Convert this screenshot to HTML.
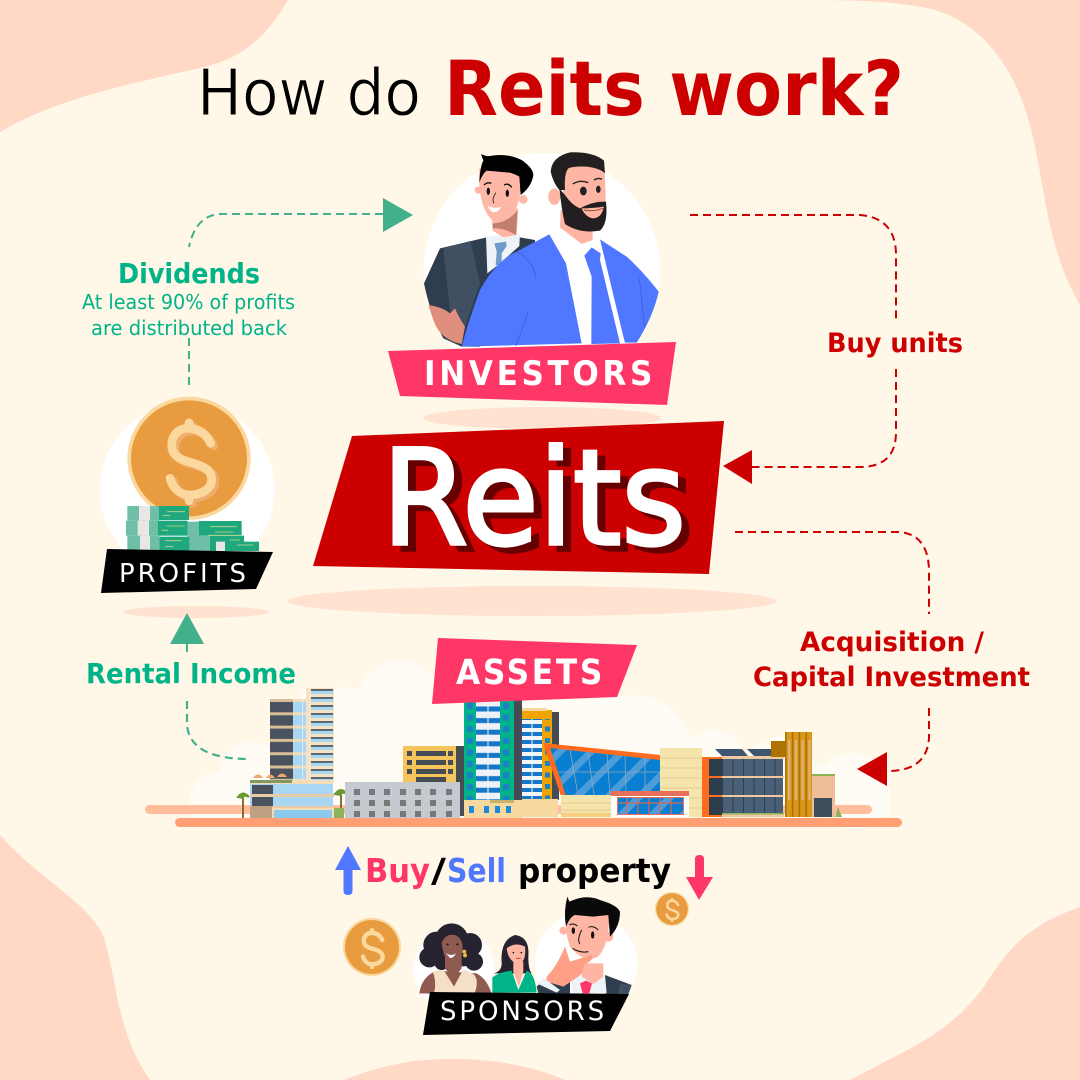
<!DOCTYPE html>
<html><head><meta charset="utf-8"><title>How do Reits work?</title>
<style>html,body{margin:0;padding:0;background:#FFF7E8}svg{display:block}text{font-family:"DejaVu Sans","Liberation Sans",sans-serif}</style></head>
<body>
<svg xmlns="http://www.w3.org/2000/svg" width="1080" height="1080" viewBox="0 0 1080 1080">
<defs>
<pattern id="tw" x="270" y="699" width="23" height="13.3" patternUnits="userSpaceOnUse"><rect width="23" height="13.3" fill="#4A5260"/><rect width="23" height="3" fill="#D9BC98"/></pattern>
<pattern id="tg" x="293" y="699" width="20" height="13.3" patternUnits="userSpaceOnUse"><rect width="20" height="13.3" fill="#A9D6F2"/><rect width="20" height="3" fill="#F3DDB8"/><rect x="9" width="1" height="13.3" fill="#D8EEFA"/></pattern>
<pattern id="tr" x="306" y="688" width="28" height="8" patternUnits="userSpaceOnUse"><rect width="28" height="8" fill="#F6E2C4"/><rect x="5" y="1" width="22" height="2" fill="#5E6670"/><rect x="5" y="3" width="22" height="3" fill="#A8D8F4"/></pattern>
<pattern id="gt" x="476" y="700" width="24" height="11.6" patternUnits="userSpaceOnUse"><rect width="24" height="11.6" fill="#EEF2F6"/><rect y="6.5" width="24" height="5" fill="#1676C8"/><rect x="11.5" width="1" height="11.6" fill="#EEF2F6"/></pattern>
<pattern id="gw" x="464" y="700" width="12" height="11.6" patternUnits="userSpaceOnUse"><rect width="12" height="11.6" fill="#00B388"/><rect x="3" y="3" width="6" height="6" fill="#1C7FC8"/></pattern>
<pattern id="ot" x="522" y="712" width="20" height="8" patternUnits="userSpaceOnUse"><rect width="20" height="8" fill="#F2F5F8"/><rect y="4" width="20" height="4" fill="#1676C8"/><rect x="9.5" width="1" height="8" fill="#F2F5F8"/></pattern>
<pattern id="ow" x="542" y="712" width="10" height="11.5" patternUnits="userSpaceOnUse"><rect width="10" height="11.5" fill="#EFA400"/><rect x="3" y="3" width="5" height="5" fill="#1C7FC8"/></pattern>
<pattern id="mg" width="22" height="22" patternUnits="userSpaceOnUse" patternTransform="rotate(45)"><rect width="22" height="22" fill="#0A7ED0"/><rect width="7" height="22" fill="#4B9CD8"/></pattern>
<pattern id="off" x="722" y="757" width="10.5" height="10" patternUnits="userSpaceOnUse"><rect width="10.5" height="10" fill="#4A6078"/><rect width="1" height="10" fill="#2E3D4C"/></pattern>
<pattern id="wood" x="785" y="732" width="6.8" height="85" patternUnits="userSpaceOnUse"><rect width="6.8" height="85" fill="#D9981A"/><rect width="1.6" height="85" fill="#A87200"/><rect x="3" y="8" width="2.2" height="60" fill="#E3B07A"/></pattern>
</defs>

<!-- background -->
<rect width="1080" height="1080" fill="#FFF7E8"/>
<g fill="#FFD8C6">
<path d="M0 0H288C262 45 235 60 200 68C120 86 55 100 0 132Z"/>
<path d="M792 0C850 0 895 0 935 10C985 25 1015 70 1030 125C1045 180 1045 245 1080 305V0Z"/>
<path d="M0 835C40 880 85 900 103 935C118 980 115 1030 150 1080H0Z"/>
<path d="M344 1080C390 1062 420 1059 455 1059C490 1059 530 1065 565 1080Z"/>
<path d="M1080 907C1030 925 1010 945 985 985C950 1035 905 1050 850 1080H1080Z"/>
</g>

<!-- title -->
<text x="197" y="115" font-size="64" fill="#000" stroke="#FFF7E8" stroke-width="1" textLength="224" lengthAdjust="spacingAndGlyphs">How do</text>
<text x="444" y="115" font-size="76" font-weight="700" fill="#CC0000" textLength="460" lengthAdjust="spacingAndGlyphs">Reits work?</text>

<!-- connector labels -->
<g fill="#00B388" font-weight="700">
<text x="118" y="283" font-size="28" textLength="142" lengthAdjust="spacingAndGlyphs">Dividends</text>
<text x="86" y="683" font-size="28" textLength="210" lengthAdjust="spacingAndGlyphs">Rental Income</text>
</g>
<g fill="#00B388">
<text x="82" y="309" font-size="20" textLength="213" lengthAdjust="spacingAndGlyphs">At least 90% of profits</text>
<text x="91" y="335" font-size="20" textLength="196" lengthAdjust="spacingAndGlyphs">are distributed back</text>
</g>
<g fill="#CC0000" font-weight="700">
<text x="827" y="352" font-size="27" textLength="136" lengthAdjust="spacingAndGlyphs">Buy units</text>
<text x="800" y="651" font-size="27" textLength="184" lengthAdjust="spacingAndGlyphs">Acquisition /</text>
<text x="753" y="686" font-size="27" textLength="277" lengthAdjust="spacingAndGlyphs">Capital Investment</text>
</g>

<!-- investors -->
<ellipse cx="542" cy="271" rx="118.500" ry="118" fill="#fff"/>
<ellipse cx="542" cy="418" rx="119" ry="11" fill="#FFE3D0"/>
<g transform="translate(400 140) scale(.33333)">
  <path d="M120 325L260 292H360L405 300V400L240 620H185L130 595Q90 520 72 430Z" fill="#2F3E4E"/>
  <path d="M130 325L212 303L240 430L195 560L150 515Z" fill="#414F63"/>
  <path d="M85 495Q125 500 150 520L165 505Q175 530 195 560L185 612Q120 600 100 540Z" fill="#E08F7E"/>
  <path d="M258 290L360 280L358 318L300 370L262 400Z" fill="#EEF3F8"/>
  <path d="M283 310L318 305L320 318L305 340L305 375L287 375L290 335Z" fill="#6F9BC8"/>
  <path d="M275 215L355 205L350 285L310 292L278 272Z" fill="#FFB5A3"/>
  <path d="M278 250Q320 250 352 212L348 285Q310 262 278 265Z" fill="#C17F6E"/>
  <circle cx="235" cy="150" r="11" fill="#FFB8A8"/><circle cx="370" cy="178" r="13" fill="#FFB8A8"/>
  <path d="M238 85Q232 210 285 248Q325 248 348 205Q365 170 366 85Z" fill="#FFB8A8"/>
  <path d="M243 42Q258 50 270 48Q320 38 365 60Q400 85 400 105Q395 140 362 165L358 110Q350 105 330 98L260 92Q248 100 238 128Q240 80 250 62Z" fill="#000"/>
  <ellipse cx="265" cy="154" rx="5" ry="11" fill="#111"/><ellipse cx="322" cy="160" rx="5" ry="11" fill="#111"/>
  <path d="M252 135Q262 125 274 130M312 135Q325 128 335 142" stroke="#111" stroke-width="4" fill="none"/>
  <path d="M288 158Q274 178 282 190" stroke="#222" stroke-width="2.500" fill="none"/>
  <path d="M262 197Q285 208 304 200Q295 218 280 217Q268 212 262 197Z" fill="#fff"/>
  <path d="M600 298L680 350Q730 395 776 455Q760 530 710 608H675L605 380Z" fill="#4F77FF"/>
  <path d="M448 283L480 260L578 285L600 298L675 610H545L498 370Z" fill="#fff"/>
  <path d="M448 283L498 370L545 610L185 620Q200 560 240 450Q290 360 350 335Z" fill="#4F77FF"/>
  <path d="M482 210L480 262L545 312L578 300V240Z" fill="#FFB5A3"/>
  <path d="M553 347L575 322L602 340L600 360L660 610L574 612L575 410Z" fill="#4F77FF"/>
  <path d="M350 335Q400 360 408 415M385 515L348 618M718 415L734 565" stroke="#3D5BC8" stroke-width="2" fill="none"/>
  <ellipse cx="463" cy="170" rx="18" ry="25" fill="#FFB5A3"/>
  <path d="M490 70L612 70Q620 180 615 230Q590 270 540 265L490 225Z" fill="#FFB5A3"/>
  <path d="M452 95Q455 50 510 37Q580 35 612 62L615 100Q600 85 560 80Q520 78 505 85Q492 100 495 150H478Q460 130 452 95Z" fill="#231F20"/>
  <path d="M478 145L495 165Q515 195 540 205Q580 183 618 185Q625 250 600 272Q540 282 495 252Q485 210 478 145Z" fill="#231F20"/>
  <path d="M545 205Q580 205 612 200Q605 235 578 235Q555 230 545 205Z" fill="#FFB5A3"/>
  <path d="M552 210Q580 216 610 205" stroke="#8A4A3A" stroke-width="3" fill="none"/>
  <ellipse cx="550" cy="153" rx="10" ry="13" fill="#222"/><ellipse cx="595" cy="148" rx="7" ry="11" fill="#222"/>
  <path d="M518 132Q540 118 565 128M582 120Q595 112 606 118" stroke="#222" stroke-width="4" fill="none"/>
</g>
<polygon points="388,351 676,342 667,405 400,396" fill="#FF3767"/>
<text x="424" y="385" font-size="34" font-weight="700" letter-spacing="4" fill="#fff" textLength="232" lengthAdjust="spacingAndGlyphs">INVESTORS</text>

<!-- reits banner -->
<ellipse cx="532" cy="601" rx="244" ry="15" fill="#FFE3D0"/>
<polygon points="352,436 724,421 709,574 313,566" fill="#CC0000"/>
<text x="382" y="550" font-size="132" fill="#660000" stroke="#660000" stroke-width="3.500" transform="translate(8 0)" textLength="304" lengthAdjust="spacingAndGlyphs">Reits</text>
<text x="382" y="544" font-size="132" fill="#fff" stroke="#fff" stroke-width="3.500" textLength="304" lengthAdjust="spacingAndGlyphs">Reits</text>

<!-- profits -->
<ellipse cx="196" cy="612" rx="73" ry="6" fill="#FFE3D0"/>
<circle cx="187" cy="490" r="87.500" fill="#fff"/>
<g transform="translate(90 390) scale(.33333)">
  <circle cx="297" cy="205" r="185" fill="#FBD89E"/><circle cx="297" cy="205" r="174" fill="#E89C3F"/>
  <g fill="none" stroke-width="26" stroke-linecap="round">
    <path stroke="#F0AE6E" transform="translate(10 8)" d="M362 160C345 125 320 115 295 115C262 115 245 140 245 165C245 200 275 210 305 218C340 228 365 240 365 268C365 295 335 315 300 315C270 315 248 295 240 265M297 98V115M297 315V332"/>
    <path stroke="#FBD89E" d="M362 160C345 125 320 115 295 115C262 115 245 140 245 165C245 200 275 210 305 218C340 228 365 240 365 268C365 295 335 315 300 315C270 315 248 295 240 265M297 98V115M297 315V332"/>
  </g>
  <rect x="112" y="348" width="95" height="44" fill="#6FBFA8"/><rect x="147" y="348" width="33" height="44" fill="#E9E6E6"/><rect x="207" y="348" width="90" height="42" fill="#1FA87E"/>
  <rect x="108" y="392" width="95" height="45" fill="#6FBFA8"/><rect x="143" y="392" width="34" height="45" fill="#E9E6E6"/><rect x="203" y="392" width="90" height="45" fill="#1FA87E"/>
  <rect x="293" y="395" width="34" height="88" fill="#6FBFA8"/><rect x="327" y="393" width="128" height="44" fill="#1FA87E"/>
  <rect x="112" y="437" width="96" height="46" fill="#6FBFA8"/><rect x="150" y="437" width="30" height="46" fill="#E9E6E6"/><rect x="208" y="440" width="90" height="43" fill="#1FA87E"/>
  <rect x="327" y="437" width="33" height="46" fill="#6FBFA8"/><rect x="360" y="437" width="102" height="46" fill="#1FA87E"/><rect x="378" y="455" width="27" height="28" fill="#E9E6E6"/><rect x="405" y="455" width="102" height="28" fill="#1FA87E"/>
  <path d="M232 365H285M218 377H240M230 408H285M215 421H235M225 452H275M225 470H250M360 410H440M375 426H430M355 436H455M420 450H450M440 465H490" stroke="#C9D68A" stroke-width="2.500"/>
</g>
<polygon points="107,549 273,552 256,589 101,593" fill="#000"/>
<text x="119" y="582" font-size="26" letter-spacing="3" fill="#fff" textLength="130" lengthAdjust="spacingAndGlyphs">PROFITS</text>

<!-- clouds -->
<g fill="#FFFCF6">
<circle cx="217" cy="800" r="27"/><circle cx="250" cy="772" r="30"/><circle cx="345" cy="720" r="33"/><circle cx="400" cy="705" r="44"/>
<circle cx="632" cy="755" r="60"/><circle cx="713" cy="762" r="32"/><circle cx="780" cy="772" r="35"/><circle cx="852" cy="791" r="38"/>
<rect x="300" y="690" width="310" height="126"/><rect x="192" y="795" width="698" height="22"/><rect x="240" y="765" width="600" height="45"/>
</g>

<!-- ground back -->
<rect x="145" y="805" width="727" height="9" rx="4.500" fill="#FFBD9B"/>

<!-- buildings left -->
<rect x="270" y="699" width="23" height="84" fill="url(#tw)"/>
<rect x="293" y="699" width="19" height="84" fill="url(#tg)"/>
<rect x="306" y="688" width="28" height="95" fill="url(#tr)"/>
<rect x="250" y="780" width="83" height="38" fill="#A9D6F2"/>
<rect x="250" y="780" width="83" height="4" fill="#F3DDB8"/>
<rect x="250" y="780" width="42" height="3" fill="#7E9A60"/>
<rect x="252" y="785" width="21" height="9" fill="#4A5260"/><rect x="252" y="797" width="21" height="9" fill="#4A5260"/>
<rect x="250" y="794" width="84" height="3" fill="#E8CCA8"/><rect x="250" y="806" width="84" height="2" fill="#E8CCA8"/>
<rect x="250" y="806" width="22" height="12" fill="#BFA080"/>
<rect x="272" y="808" width="62" height="10" fill="#F3DDB8"/><rect x="274" y="810" width="58" height="8" fill="#8CC9EE"/>
<path d="M253 778Q258 771 263 778ZM266 778Q270 771 275 778ZM277 777Q282 770 287 777Z" fill="#EFA96B"/>
<path d="M243 818V798M341 818V794" stroke="#8B6B3A" stroke-width="2"/>
<path d="M238 797Q243 790 249 797Q243 794 243 798ZM335 794Q341 786 347 794Q341 791 341 795Z" fill="#6A9A30" stroke="#6A9A30" stroke-width="2"/>
<rect x="334" y="808" width="10" height="10" fill="#8DB35A"/>
<!-- yellow -->
<rect x="403" y="746" width="53" height="38" fill="#F5C55B"/>
<rect x="456" y="746" width="9" height="70" fill="#454C53"/>
<g fill="#454C53"><rect x="416" y="751" width="30" height="5"/><rect x="416" y="760" width="30" height="5"/><rect x="416" y="769" width="30" height="5"/><rect x="416" y="777" width="30" height="5"/><rect x="448" y="751" width="5" height="5"/><rect x="448" y="760" width="5" height="5"/><rect x="448" y="769" width="5" height="5"/><rect x="407" y="751" width="5" height="5"/><rect x="407" y="760" width="5" height="5"/><rect x="407" y="769" width="5" height="5"/></g>
<!-- gray -->
<rect x="345" y="782" width="115" height="36" fill="#C5CAD0"/>
<g fill="#777"><rect x="354" y="789" width="6" height="6"/><rect x="369" y="789" width="6" height="6"/><rect x="384" y="789" width="6" height="6"/><rect x="400" y="789" width="6" height="6"/><rect x="415" y="789" width="6" height="6"/><rect x="430" y="789" width="6" height="6"/><rect x="446" y="789" width="6" height="6"/>
<rect x="354" y="800" width="6" height="6"/><rect x="369" y="800" width="6" height="6"/><rect x="384" y="800" width="6" height="6"/><rect x="400" y="800" width="6" height="6"/><rect x="415" y="800" width="6" height="6"/><rect x="430" y="800" width="6" height="6"/><rect x="446" y="800" width="6" height="6"/>
<rect x="354" y="811" width="6" height="6"/><rect x="369" y="811" width="6" height="6"/><rect x="384" y="811" width="6" height="6"/><rect x="400" y="811" width="6" height="6"/><rect x="415" y="811" width="6" height="6"/><rect x="430" y="811" width="6" height="6"/><rect x="446" y="811" width="6" height="6"/></g>
<!-- green tower -->
<rect x="464" y="700" width="12" height="100" fill="url(#gw)"/>
<rect x="476" y="700" width="24" height="100" fill="url(#gt)"/>
<rect x="500" y="700" width="14" height="100" fill="url(#gw)"/>
<rect x="514" y="700" width="8" height="100" fill="#454C53"/>
<rect x="464" y="800" width="58" height="18" fill="#F7D9A0"/>
<rect x="490" y="800" width="24" height="3" fill="#C9B26E"/>
<g fill="#1C8ADB"><rect x="469" y="806" width="5" height="7"/><rect x="484" y="806" width="5" height="7"/><rect x="495" y="806" width="5" height="7"/><rect x="506" y="806" width="5" height="7"/></g>
<!-- orange tower -->
<rect x="522" y="710" width="30" height="90" fill="#EFA400"/>
<rect x="522" y="708" width="25" height="3" fill="#F7D9A0"/>
<rect x="522" y="719" width="20" height="80" fill="url(#ot)"/>
<rect x="542" y="719" width="10" height="80" fill="url(#ow)"/>
<rect x="552" y="712" width="7" height="88" fill="#454C53"/>
<rect x="522" y="799" width="36" height="18" fill="#F7D9A0"/>
<!-- assets banner -->
<polygon points="438,638 637,645 617,697 432,704" fill="#FF3767"/>
<text x="456" y="684" font-size="35" font-weight="700" letter-spacing="3" fill="#fff" textLength="149" lengthAdjust="spacingAndGlyphs">ASSETS</text>
<!-- mall -->
<rect x="660" y="748" width="42" height="69" fill="#F5E4AC"/>
<path d="M660 758H702M660 768H702M660 778H702M660 788H702M660 798H702M660 808H702" stroke="#E3CC8C" stroke-width="1"/>
<polygon points="550,748 660,759 660,795 565,795" fill="url(#mg)"/>
<path d="M570 750L578 795M588 752L594 795M607 754L610 795M625 756L626 795M645 757L645 795M558 772H660" stroke="#8FA8BE" stroke-width=".8" fill="none"/>
<polygon points="543,743 660,755 660,760 550,748 566,796 561,796" fill="#FF6B1F"/>
<rect x="561" y="795" width="51" height="22" fill="#F5E4AC"/>
<path d="M561 803H612M561 810H612" stroke="#E3CC8C"/>
<rect x="561" y="813" width="128" height="4" fill="#F8D080"/>
<rect x="611" y="792" width="78" height="25" fill="#fff"/>
<rect x="611" y="791" width="78" height="5" fill="#E8705A"/>
<rect x="617" y="797" width="67" height="18" fill="#E8705A"/>
<rect x="618" y="798" width="65" height="16" fill="url(#mg)"/>
<path d="M627 798V814M638 798V814M649 798V814M660 798V814M671 798V814M618 803H683" stroke="#D66A5A" stroke-width="1.200"/>
<!-- office -->
<rect x="702" y="757" width="81" height="60" fill="#2E3D4C"/>
<rect x="722" y="758" width="61" height="59" fill="url(#off)"/>
<rect x="702" y="757" width="7" height="60" fill="#FF6B1F"/>
<rect x="702" y="757" width="20" height="2" fill="#FF6B1F"/><rect x="702" y="776" width="20" height="2" fill="#FF6B1F"/><rect x="702" y="795" width="20" height="2" fill="#FF6B1F"/><rect x="702" y="815" width="20" height="2" fill="#FF6B1F"/>
<rect x="722" y="756" width="62" height="3" fill="#EFC8A0"/><rect x="722" y="776" width="62" height="2" fill="#EFC8A0"/><rect x="722" y="795" width="62" height="2" fill="#EFC8A0"/><rect x="722" y="814" width="62" height="3" fill="#EFC8A0"/>
<rect x="722" y="813" width="62" height="1.500" fill="#8DB35A"/>
<polygon points="715,749 742,749 748,756 722,756" fill="#3E5570"/><polygon points="747,749 773,749 780,756 754,756" fill="#3E5570"/>
<rect x="771" y="741" width="15" height="16" fill="#AD7200"/>
<rect x="785" y="732" width="27" height="85" fill="url(#wood)"/>
<rect x="812" y="774" width="23" height="43" fill="#EDBE98"/><rect x="812" y="774" width="23" height="2" fill="#8DB35A"/>
<rect x="814" y="798" width="18" height="19" fill="#3E4C5C"/>
<polygon points="835,817 838,807 842,817" fill="#8DB35A"/>
<!-- ground front -->
<rect x="175" y="818" width="727" height="9" rx="4.500" fill="#FF9F73"/>

<!-- connectors -->
<g fill="none" stroke-dasharray="8 5">
<path d="M383 214H222Q196 214 189 247" stroke="#43B08C" stroke-width="2"/>
<path d="M189 338V385" stroke="#43B08C" stroke-width="2"/>
<path d="M187 701V725Q190 759 249 759" stroke="#43B08C" stroke-width="2.200"/>
<path d="M187 644V656" stroke="#43B08C" stroke-width="2"/>
<path d="M690 215H860Q896 218 896 255V320" stroke="#CC0000" stroke-width="2"/>
<path d="M896 369V432Q896 467 860 467H752" stroke="#CC0000" stroke-width="2"/>
<path d="M735 532H900Q929 535 929 572V614" stroke="#CC0000" stroke-width="2"/>
<path d="M929 708V738Q927 770 890 771" stroke="#CC0000" stroke-width="2"/>
</g>
<polygon points="383,198 413,215 383,232" fill="#43B08C"/>
<polygon points="187,613 204,644 170,644" fill="#43B08C"/>
<polygon points="723,466 752,450 752,484" fill="#CC0000"/>
<polygon points="857,769 887,752 887,786" fill="#CC0000"/>

<!-- buy/sell -->
<path d="M348 846L361 870H352.500V891Q352.500 895 348 895Q343.500 895 343.500 891V870H335Z" fill="#4F77FF"/>
<path d="M699 900L686 877H695V859Q695 855 699.500 855Q704 855 704 859V877H713Z" fill="#FF3767"/>
<g font-size="33" font-weight="700">
<text x="365" y="882" fill="#FF3767" textLength="65" lengthAdjust="spacingAndGlyphs">Buy</text>
<text x="431" y="882" fill="#000" textLength="15" lengthAdjust="spacingAndGlyphs">/</text>
<text x="447" y="882" fill="#4F77FF" textLength="59" lengthAdjust="spacingAndGlyphs">Sell</text>
<text x="518" y="882" fill="#000" textLength="153" lengthAdjust="spacingAndGlyphs">property</text>
</g>

<!-- coins -->
<g transform="translate(372 947) scale(.157) translate(-297 -205)">
  <circle cx="297" cy="205" r="185" fill="#FBD89E"/><circle cx="297" cy="205" r="172" fill="#E89C3F"/>
  <path fill="none" stroke="#FBD89E" stroke-width="28" stroke-linecap="round" d="M362 160C345 125 320 115 295 115C262 115 245 140 245 165C245 200 275 210 305 218C340 228 365 240 365 268C365 295 335 315 300 315C270 315 248 295 240 265M297 98V115M297 315V332"/>
</g>
<g transform="translate(672 909) scale(.092) translate(-297 -205)">
  <circle cx="297" cy="205" r="185" fill="#FBD89E"/><circle cx="297" cy="205" r="172" fill="#E89C3F"/>
  <path fill="none" stroke="#FBD89E" stroke-width="28" stroke-linecap="round" d="M362 160C345 125 320 115 295 115C262 115 245 140 245 165C245 200 275 210 305 218C340 228 365 240 365 268C365 295 335 315 300 315C270 315 248 295 240 265M297 98V115M297 315V332"/>
</g>

<!-- sponsors -->
<g transform="translate(330 840) scale(.33333)">
  <circle cx="372" cy="390" r="122" fill="#fff"/>
  <circle cx="768" cy="372" r="154" fill="#fff"/>
  <!-- woman 1 -->
  <path d="M268 460Q275 410 320 392L440 400Q475 420 485 465Z" fill="#8F5A50"/>
  <path d="M308 395L340 388L372 440L400 388L430 402Q450 420 432 465H310Q322 430 308 395Z" fill="#F3E0C6"/>
  <g fill="#262230"><circle cx="365" cy="300" r="50"/><circle cx="320" cy="315" r="40"/><circle cx="298" cy="352" r="30"/><circle cx="420" cy="315" r="36"/><circle cx="432" cy="365" r="27"/><circle cx="335" cy="368" r="22"/><circle cx="400" cy="355" r="24"/></g>
  <path d="M345 340H395V385L370 415L345 385Z" fill="#8F5A50"/>
  <path d="M335 310Q345 280 375 285Q400 295 398 330Q392 372 362 368Q340 355 335 310Z" fill="#8F5A50"/>
  <path d="M348 340Q365 350 378 340Q370 355 360 354Z" fill="#fff"/>
  <circle cx="353" cy="313" r="3" fill="#111"/><circle cx="382" cy="313" r="3" fill="#111"/>
  <circle cx="403" cy="335" r="6" fill="#E8B84A"/><circle cx="405" cy="346" r="6" fill="#E8B84A"/>
  <!-- woman 2 -->
  <path d="M515 370Q510 300 555 285Q600 290 595 350Q595 390 605 400H490Q515 395 515 370Z" fill="#262230"/>
  <path d="M487 412Q510 395 545 392L565 450L590 392Q615 400 620 458H487Z" fill="#00B388"/>
  <path d="M550 365H580V395L567 440L550 395Z" fill="#FFB5A3"/>
  <path d="M530 325Q555 305 585 320Q590 365 565 372Q535 365 530 325Z" fill="#FFB5A3"/>
  <circle cx="550" cy="338" r="2.500" fill="#111"/><circle cx="574" cy="338" r="2.500" fill="#111"/><path d="M558 355H572" stroke="#C0453A" stroke-width="3"/>
  <!-- man -->
  <path d="M620 440L640 420L720 410V460H625Z" fill="#2F3E4E"/>
  <path d="M825 405L905 435L895 462H825Z" fill="#2F3E4E"/><path d="M870 430L905 435L895 462H865Z" fill="#414F63"/>
  <path d="M725 410L825 405L830 460H725Z" fill="#EEF3F8"/>
  <path d="M750 430L768 422L786 430L778 460H758Z" fill="#FF3767"/>
  <path d="M755 370H820V410L790 432L755 410Z" fill="#FFB5A3"/>
  <path d="M708 225Q750 200 840 215Q835 330 800 352Q760 370 720 320Q705 280 708 225Z" fill="#FFB5A3"/>
  <circle cx="700" cy="272" r="12" fill="#FFB5A3"/><circle cx="835" cy="290" r="15" fill="#FFB5A3"/>
  <path d="M712 170L718 185Q770 160 815 182Q860 195 870 215Q870 260 840 290L835 225L790 230L735 225Q720 230 708 260Q700 215 712 170Z" fill="#0A0A0A"/>
  <ellipse cx="730" cy="272" rx="5" ry="10" fill="#111"/><ellipse cx="788" cy="285" rx="5" ry="11" fill="#111"/>
  <path d="M718 255Q730 248 742 258M775 262Q790 255 805 270M755 270Q740 300 750 312M728 325Q750 340 775 335" stroke="#111" stroke-width="3" fill="none"/>
  <path d="M650 410Q680 380 705 320L720 365L785 345Q795 360 760 375Q765 395 745 410L700 440L650 425Z" fill="#FF9F86"/>
  <path d="M640 413L690 450L680 458L620 430Z" fill="#EEF3F8"/>
</g>
<polygon points="430,992 629,994 610,1031 423,1035" fill="#000"/>
<text x="440" y="1020" font-size="27" letter-spacing="3" fill="#fff" textLength="167" lengthAdjust="spacingAndGlyphs">SPONSORS</text>
</svg>
</body></html>
